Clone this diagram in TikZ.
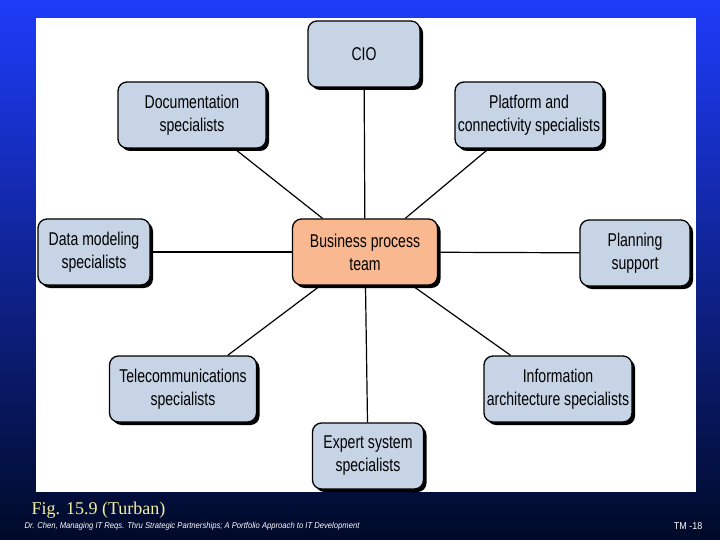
\documentclass[tikz,border=0pt]{standalone}
\usepackage{fontspec}
\setmainfont{Liberation Sans}[FakeStretch=0.76]
\newfontfamily\serifff{Liberation Serif}
\newfontfamily\footfont{Liberation Sans}[FakeStretch=0.9]
\usetikzlibrary{shadows,backgrounds}
\definecolor{boxblue}{HTML}{C6D4E6}
\definecolor{boxorange}{HTML}{F9B88F}
\definecolor{figyellow}{HTML}{F4F0A0}
\begin{document}
\begin{tikzpicture}[x=1pt,y=-1pt,
  box/.style={draw=black,line width=1.3pt,rounded corners=9pt,fill=boxblue,align=center,
    minimum height=66pt,font=\fontsize{18.5}{23}\selectfont,inner sep=1pt,
    drop shadow={shadow xshift=3pt,shadow yshift=-3pt,fill=black,opacity=1}},
  link/.style={line width=1.2pt}]
\useasboundingbox (0,0) rectangle (720,540);
\node[box,minimum width=145pt,fill=boxorange] (bp) at (365,252) {Business process\\team};
\node[box,minimum width=112pt] (cio) at (364,54) {CIO};
\node[box,minimum width=148pt] (doc) at (192,115) {Documentation\\specialists};
\node[box,minimum width=148pt] (plat) at (529,115) {Platform and\\connectivity specialists};
\node[box,minimum width=112pt] (dm) at (94,252) {Data modeling\\specialists};
\node[box,minimum width=110pt] (plan) at (635,253) {Planning\\support};
\node[box,minimum width=147pt] (tel) at (183,389) {Telecommunications\\specialists};
\node[box,minimum width=148pt] (info) at (558,389) {Information\\architecture specialists};
\node[box,minimum width=111pt] (exp) at (368,456) {Expert system\\specialists};
\begin{scope}[on background layer]
\shade[top color={rgb,255:red,30;green,60;blue,250},bottom color={rgb,255:red,0;green,10;blue,40}] (0,0) rectangle (720,540);
\fill[white] (36,18) rectangle (696,492);
\foreach \n in {cio,doc,plat,dm,plan,tel,info,exp} \draw[link] (bp) -- (\n);
\end{scope}
\node[anchor=west,text=figyellow,font=\serifff\fontsize{18}{20}\selectfont] (fig) at (28,510) {Fig. 15.9 (Turban)};
\node[anchor=west,text=white,font=\footfont\itshape\fontsize{8.5}{10}\selectfont] (cite) at (21,526) {Dr. Chen, Managing IT Reqs. Thru Strategic Partnerships; A Portfolio Approach to IT Development};
\node[anchor=east,text=white,font=\footfont\fontsize{10}{12}\selectfont] (tm) at (706,526) {TM -18};
\end{tikzpicture}
\end{document}
